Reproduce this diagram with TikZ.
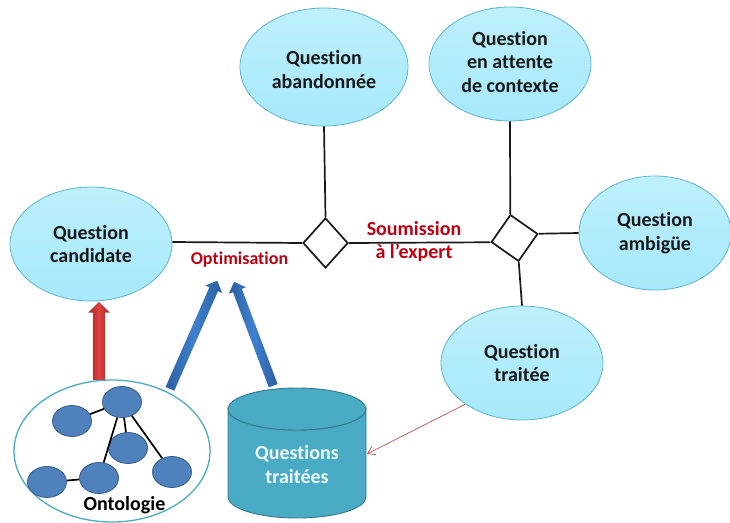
\documentclass[tikz,border=0pt]{standalone}
\usepackage{fontspec}
\setmainfont[Ligatures=NoCommon]{Carlito}
\usetikzlibrary{shapes.geometric,shapes.arrows,arrows.meta}
\definecolor{bubtop}{HTML}{BDF0FC}
\definecolor{bubbot}{HTML}{A6E8FA}
\definecolor{bubedge}{HTML}{5FB4CC}
\definecolor{cyl}{HTML}{4AABC5}
\definecolor{cyledge}{HTML}{35798E}
\definecolor{onode}{HTML}{4F81BD}
\definecolor{onodeedge}{HTML}{385D8A}
\definecolor{redtxt}{HTML}{C00010}
\definecolor{bluedark}{HTML}{2A5F9E}
\definecolor{bluelight}{HTML}{3F80D0}
\definecolor{reddark}{HTML}{A02B2B}
\definecolor{redlight}{HTML}{E04040}
\definecolor{thinred}{HTML}{C0504D}
\newcommand{\shiftline}[2]{\raisebox{#1}[\height][\depth]{#2}}
\tikzset{
  bubble/.style={ellipse,draw=bubedge,line width=.8pt,top color=bubtop,bottom color=bubbot,inner sep=0pt,align=center,
    font=\fontsize{20}{23.5}\selectfont\bfseries,text=black!90},
  conn/.style={line width=1.7pt,draw=black!90},
  losange/.style={draw=black!90,line width=1.7pt,fill=white,inner sep=0pt},
  onto/.style={ellipse,draw=onodeedge,line width=.8pt,fill=onode,inner sep=0pt,minimum width=39pt,minimum height=31pt},
  ontolink/.style={line width=1.7pt,draw=black},
  redlabel/.style={text=redtxt,align=center,inner sep=0pt,font=\fontsize{20}{23}\selectfont\bfseries},
  bigarrow/.style={single arrow,inner xsep=0pt,inner ysep=#1,single arrow head indent=0pt,minimum width=0pt},
  bluearrow/.style={bigarrow=4.5pt,single arrow head extend=4.5pt,left color=bluedark,right color=bluedark,middle color=bluelight},
  redarrow/.style={bigarrow=6pt,single arrow head extend=4.5pt,left color=reddark,right color=reddark,middle color=redlight}
}
\begin{document}
\begin{tikzpicture}[x=1pt,y=-1pt]
\useasboundingbox (0,0) rectangle (730,522);
\node[bubble,minimum width=168pt,minimum height=118pt] (aband) at (324,67) {\shiftline{-2.5pt}{Question}\\\shiftline{-2.5pt}{abandonnée}};
\node[bubble,minimum width=162pt,minimum height=114pt] (attente) at (510,64) {\shiftline{2pt}{Question}\\\shiftline{2pt}{en attente}\\\shiftline{2pt}{de contexte}};
\node[bubble,minimum width=152pt,minimum height=114pt] (ambig) at (655,233) {Question\\ambigüe};
\node[bubble,minimum width=162pt,minimum height=114pt] (traitee) at (522,363) {Question\\traitée};
\node[bubble,minimum width=162pt,minimum height=114pt] (cand) at (91,244) {Question\\candidate};
\node[diamond,losange,minimum width=45pt,minimum height=50pt] (d1) at (325.5,243) {};
\node[rectangle,losange,minimum size=33pt,rotate=-35] (d2) at (514.5,238) {};
\draw[conn] (cand.east) ++(0,-2) -- (d1.west);
\draw[conn] (aband.south) -- (d1.north);
\draw[conn] (d1.east) -- (d2.south west);
\draw[conn] (attente.south) -- (d2.north west);
\draw[conn] (d2.north east) -- (ambig.west);
\draw[conn] (d2.south east) -- (traitee.north);
% labels
\node[redlabel] (optim) at (239.5,260) {\fontsize{18}{20}\selectfont Optimisation};
\node[redlabel] (soum) at (414,242) {Soumission\\à l’expert};
% ontology
\node[ellipse,draw=cyl,line width=1.3pt,fill=white,minimum width=196pt,minimum height=142pt,inner sep=0pt] (ontol) at (112,451) {};
\node[onto] (o1) at (122,402) {};
\node[onto] (o2) at (72,421) {};
\node[onto] (o3) at (128,448) {};
\node[onto] (o4) at (172,472) {};
\node[onto] (o5) at (99,478) {};
\node[onto] (o6) at (47,482) {};
\draw[ontolink] (o1) -- (o2);
\draw[ontolink] (o1) -- (o3);
\draw[ontolink] (o1) -- (o4);
\draw[ontolink] (o1) -- (o5);
\draw[ontolink] (o5) -- (o6);
\node[inner sep=0pt,font=\fontsize{20}{20}\selectfont\bfseries] (ontolabel) at (124.5,505) {Ontologie};
% cylinder
\path[fill=cyl,draw=cyledge,line width=.9pt] (228,409) arc[start angle=180,end angle=360,x radius=69,y radius=-21]
  -- (366,497) arc[start angle=0,end angle=-180,x radius=69,y radius=-21] -- cycle;
\path[fill=cyl,draw=cyledge,line width=.9pt] (297,409) ellipse[x radius=69,y radius=21];
\node[inner sep=0pt,align=center,text=white!92!cyan,
  font=\fontsize{20}{23.5}\selectfont\bfseries] (base) at (297,464.5) {Questions\\traitées};
\coordinate (basein) at (367,454);
\draw[draw=thinred,line width=.7pt,-{Straight Barb[length=7pt,width=9pt]}] (traitee.216) -- (basein);
% big arrows
\node[redarrow,minimum height=78pt,rotate=90] (ra) at (99,344) {};
\node[bluearrow,minimum height=118pt,rotate=66.3] (ba) at (192.7,337) {};
\node[bluearrow,minimum height=111pt,rotate=110.6] (bb) at (254.5,336) {};
\end{tikzpicture}
\end{document}
